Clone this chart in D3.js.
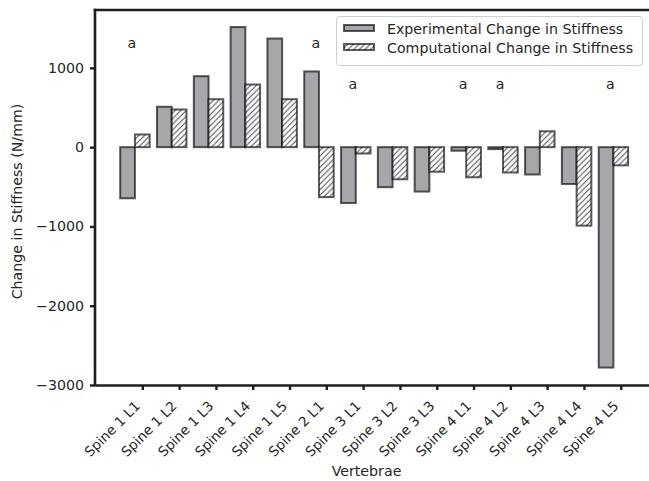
<!DOCTYPE html>
<html>
<head>
<meta charset="utf-8">
<script src="https://cdn.jsdelivr.net/npm/d3@7"></script>
<style>
  html, body { margin: 0; padding: 0; background: #fff; }
  svg { display: block; font-family: "DejaVu Sans", sans-serif; }
</style>
</head>
<body>
<svg id="chart" width="649" height="481"></svg>
<script>
// Vertebral levels tested
const categories = [
  "Spine 1 L1", "Spine 1 L2", "Spine 1 L3", "Spine 1 L4", "Spine 1 L5",
  "Spine 2 L1", "Spine 3 L1", "Spine 3 L2", "Spine 3 L3",
  "Spine 4 L1", "Spine 4 L2", "Spine 4 L3", "Spine 4 L4", "Spine 4 L5"
];
// Change in stiffness (N/mm)
const experimental = [-645, 510, 895, 1515, 1370, 955, -705, -505, -560, -45, -25, -345, -465, -2780];
const computational = [160, 475, 605, 790, 605, -630, -80, -405, -310, -380, -320, 200, -990, -230];
const seriesNames = ["Experimental Change in Stiffness", "Computational Change in Stiffness"];
const yTicks = [-3000, -2000, -1000, 0, 1000];
// Significance markers
const markers = [
  { category: "Spine 1 L1", value: 1250, label: "a" },
  { category: "Spine 2 L1", value: 1250, label: "a" },
  { category: "Spine 3 L1", value: 730, label: "a" },
  { category: "Spine 4 L1", value: 730, label: "a" },
  { category: "Spine 4 L2", value: 730, label: "a" },
  { category: "Spine 4 L5", value: 730, label: "a" }
];

const svg = d3.select("#chart");
const FS = 14.2;
const tickFS = 13.6;
const textColor = "#262626";
const spineColor = "#1e1e1e";
const plotLeft = 95, plotTop = 10, plotBottom = 385;

const x = d3.scaleLinear().domain([-1.285, 13.9]).range([plotLeft, 653.9]);
const y = d3.scaleLinear().domain([-3000, 1730]).range([plotBottom, plotTop]);
const barW = 0.4;

// hatch pattern for the computational bars
const defs = svg.append("defs");
const hs = 5.6;
const pat = defs.append("pattern")
  .attr("id", "hatch").attr("patternUnits", "userSpaceOnUse")
  .attr("width", hs).attr("height", hs);
pat.append("rect").attr("width", hs).attr("height", hs).attr("fill", "#fff");
pat.append("path")
  .attr("d", `M0,${hs} L${hs},0 M${-hs/4},${hs/4} L${hs/4},${-hs/4} M${hs*3/4},${hs*5/4} L${hs*5/4},${hs*3/4}`)
  .attr("stroke", "#4a4a4a").attr("stroke-width", 1);

const barFill = "#a7a7ab";
const edge = "rgba(0,0,0,0.64)";

const g = svg.append("g");
const idx = d3.range(categories.length);

// experimental bars
g.selectAll("rect.exp").data(idx).join("rect")
  .attr("class", "exp")
  .attr("x", i => x(i - 0.6))
  .attr("width", x(barW) - x(0))
  .attr("y", i => y(Math.max(0, experimental[i])))
  .attr("height", i => Math.abs(y(experimental[i]) - y(0)))
  .attr("fill", barFill)
  .attr("stroke", edge).attr("stroke-width", 2);

// computational bars
g.selectAll("rect.comp").data(idx).join("rect")
  .attr("class", "comp")
  .attr("x", i => x(i - 0.2))
  .attr("width", x(barW) - x(0))
  .attr("y", i => y(Math.max(0, computational[i])))
  .attr("height", i => Math.abs(y(computational[i]) - y(0)))
  .attr("fill", "url(#hatch)")
  .attr("stroke", edge).attr("stroke-width", 2);

// significance markers
g.selectAll("text.mark").data(markers).join("text")
  .attr("class", "mark")
  .attr("x", d => x(categories.indexOf(d.category) - 0.4))
  .attr("y", d => y(d.value))
  .attr("font-size", FS).attr("fill", textColor)
  .text(d => d.label);

// axes
const yAxis = svg.append("g")
  .attr("transform", `translate(${plotLeft},0)`)
  .call(d3.axisLeft(y).tickValues(yTicks).tickSize(5).tickPadding(6).tickSizeOuter(0)
    .tickFormat(d3.format("d")));
const xAxis = svg.append("g")
  .attr("transform", `translate(0,${plotBottom})`)
  .call(d3.axisBottom(x).tickValues(idx).tickSize(5).tickSizeOuter(0).tickFormat(i => categories[i]));

[yAxis, xAxis].forEach(a => {
  a.select(".domain").attr("stroke", spineColor).attr("stroke-width", 2.6);
  a.selectAll(".tick line").attr("stroke", spineColor).attr("stroke-width", 2.4);
  a.selectAll("text").attr("font-size", FS).attr("fill", textColor)
    .attr("font-family", "DejaVu Sans, sans-serif");
});
yAxis.select(".domain").attr("d", `M0,${plotTop - 1.3}V${plotBottom + 1.3}`);
xAxis.selectAll(".tick text")
  .attr("font-size", tickFS)
  .attr("text-anchor", "end")
  .attr("y", 0).attr("dy", 0)
  .attr("transform", "translate(-2,22) rotate(-45)");

// top spine
svg.append("line")
  .attr("x1", plotLeft - 1.3).attr("x2", 660)
  .attr("y1", plotTop).attr("y2", plotTop)
  .attr("stroke", spineColor).attr("stroke-width", 2.6);

// axis titles
svg.append("text")
  .attr("x", (plotLeft + 638) / 2).attr("y", 476)
  .attr("text-anchor", "middle")
  .attr("font-size", FS).attr("fill", textColor)
  .text("Vertebrae");
svg.append("text")
  .attr("transform", `translate(22,${(plotTop + plotBottom) / 2 + 4}) rotate(-90)`)
  .attr("text-anchor", "middle")
  .attr("font-size", FS).attr("fill", textColor)
  .text("Change in Stiffness (N/mm)");

// legend
const lg = svg.append("g");
lg.append("rect")
  .attr("x", 336.5).attr("y", 16.5).attr("width", 306).attr("height", 49)
  .attr("rx", 3).attr("fill", "rgba(255,255,255,0.8)")
  .attr("stroke", "#d0d0d0").attr("stroke-width", 1);
const rows = [
  { name: seriesNames[0], fill: barFill, yy: 28.5 },
  { name: seriesNames[1], fill: "url(#hatch)", yy: 47.5 }
];
rows.forEach(r => {
  lg.append("rect")
    .attr("x", 344).attr("y", r.yy - 3.5).attr("width", 30).attr("height", 6)
    .attr("fill", r.fill).attr("stroke", edge).attr("stroke-width", 2);
  lg.append("text")
    .attr("x", 387).attr("y", r.yy + 5.5)
    .attr("font-size", FS).attr("fill", textColor)
    .text(r.name);
});
</script>
</body>
</html>
